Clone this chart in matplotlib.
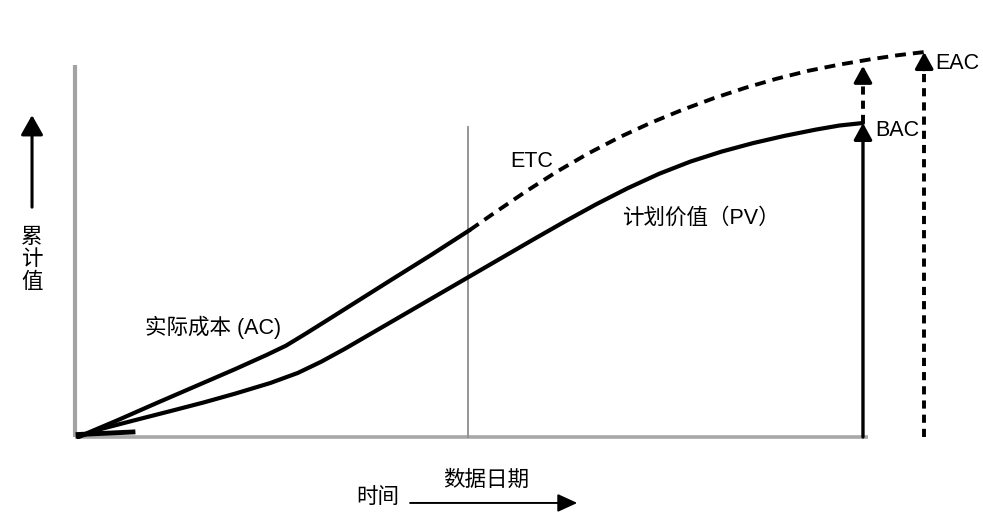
import numpy as np
import matplotlib.pyplot as plt

plt.rcParams['font.family'] = ['Liberation Sans', 'Noto Sans CJK SC', 'DejaVu Sans']

# time units: 0 = start, 100 = planned finish; value units: 100 = BAC
pv_t = [0, 3, 7, 12, 16, 20, 24.5, 28, 31, 34, 38, 42, 46, 50, 54, 58, 62,
        66, 70, 74, 78, 82, 86, 90, 94, 97, 100]
pv_v = [0, 2.6, 5.2, 8.4, 11.0, 13.8, 17.2, 20.4, 24.0, 28.1, 33.9, 39.7, 45.5,
        51.3, 57.1, 62.9, 68.6, 74.1, 79.2, 83.8, 87.7, 90.9, 93.6, 95.9, 97.9, 99.2, 100]

ac_t = [0, 5, 10, 15, 20, 24, 26.5, 29, 32, 36, 40, 45, 49.9]
ac_v = [0, 5.3, 10.8, 16.2, 21.6, 26.1, 29.1, 32.9, 37.6, 43.9, 50.2, 58.0, 65.9]

etc_t = [49.9, 53, 57, 61, 65, 69, 73, 77, 81, 85, 89, 93, 97, 101, 104.5, 107.8]
etc_v = [65.9, 71.3, 78.1, 84.5, 90.3, 95.5, 100.1, 104.2, 107.9, 111.2, 114.1,
         116.6, 118.6, 120.3, 121.6, 122.6]

data_date = 49.7
bac = 100
eac = 122.6
t_finish = 100
t_eac = 107.8

fig = plt.figure(figsize=(9.83, 5.2), dpi=100)
ax = fig.add_axes([0, 0, 1, 1])
ax.set_xlim(-9.94, 115.29)
ax.set_ylim(-26.43, 139.17)
ax.axis('off')

# axes of the diagram (grey, scanned look)
ax.plot([-0.4, -0.4], [0, 118.5], color='#a3a3a3', lw=3.0, solid_capstyle='butt')
ax.plot([-0.4, 100.6], [0, 0], color='#a8a8a8', lw=2.6, solid_capstyle='butt')
ax.plot([data_date, data_date], [0, 98.7], color='#8e8e8e', lw=1.3)

# curves
ax.plot(pv_t, pv_v, color='black', lw=3.0, solid_capstyle='round', solid_joinstyle='round')
ax.plot(ac_t, ac_v, color='black', lw=3.0, solid_capstyle='round', solid_joinstyle='round')
ax.plot(etc_t, etc_v, color='black', lw=2.8, linestyle=(0, (2.8, 1.8)))
ax.plot([0, 7], [0.8, 1.6], color='black', lw=3.5)

head = dict(arrowstyle='-|>,head_length=1.0,head_width=0.55', color='black',
            lw=2.4, mutation_scale=10, shrinkA=0, shrinkB=0)

# BAC arrow
ax.annotate('', xy=(t_finish, bac), xytext=(t_finish, 0), arrowprops=head)
# BAC -> EAC dashed arrow
ax.plot([t_finish, t_finish], [bac, 114], color='black', lw=2.8, linestyle=(0, (2.1, 1.55)))
ax.annotate('', xy=(t_finish, 118.2), xytext=(t_finish, 113), arrowprops=head)
# EAC dashed arrow
ax.plot([t_eac, t_eac], [0, 118], color='black', lw=2.8, linestyle=(0, (2.1, 1.55)))
ax.annotate('', xy=(t_eac, eac), xytext=(t_eac, 117), arrowprops=head)

fs = 15.5
ax.text(8.5, 35.0, '实际成本 (AC)', fontsize=fs, ha='left', va='center')
ax.text(55.0, 87.6, 'ETC', fontsize=fs, ha='left', va='center')
ax.text(69.3, 69.7, '计划价值（PV）', fontsize=fs, ha='left', va='center')
ax.text(101.5, 97.5, 'BAC', fontsize=fs, ha='left', va='center')
ax.text(109.2, 119.1, 'EAC', fontsize=fs, ha='left', va='center')

# y label with arrow
ax.annotate('', xy=(-5.86, 102.5), xytext=(-5.86, 73.2),
            arrowprops=dict(arrowstyle='-|>,head_length=1.2,head_width=0.68', color='black',
                            lw=2.2, mutation_scale=10, shrinkA=0, shrinkB=0))
ax.text(-5.86, 56.4, '累\n计\n值', fontsize=fs, ha='center', va='center', linespacing=1.1)

# x label with arrow
ax.annotate('', xy=(63.6, -21.0), xytext=(42.3, -21.0),
            arrowprops=dict(arrowstyle='-|>,head_length=1.2,head_width=0.55', color='black',
                            lw=1.4, mutation_scale=10, shrinkA=0, shrinkB=0))
ax.text(46.5, -13.7, '数据日期', fontsize=fs, ha='left', va='center')
ax.text(35.5, -19.4, '时间', fontsize=fs, ha='left', va='center')

fig.savefig('out.png', dpi=100)
